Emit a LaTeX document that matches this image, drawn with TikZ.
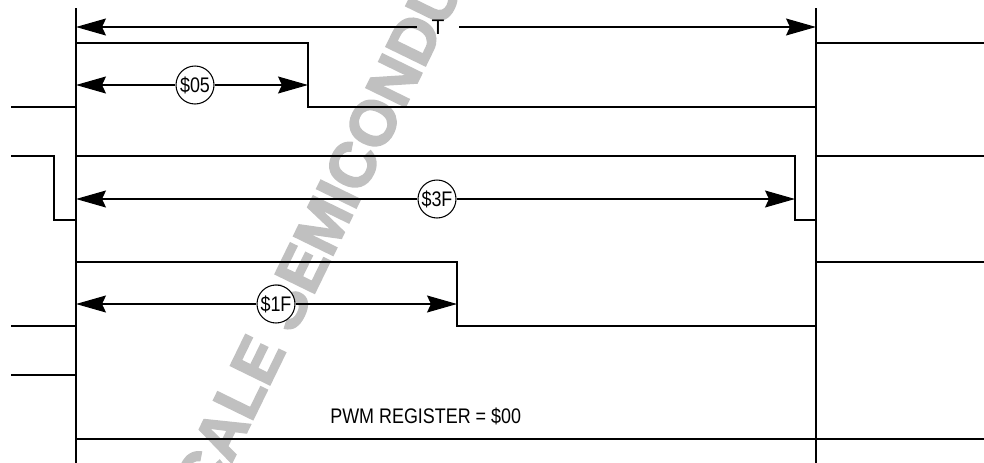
\documentclass[tikz,border=0pt]{standalone}
\usepackage{fontspec}
\setmainfont{Liberation Sans}
\newfontfamily\fuentemarca[FakeBold=3]{Liberation Sans Bold}
\usepackage{graphicx}
\usetikzlibrary{arrows.meta,positioning}
\definecolor{marcagua}{HTML}{C0C0C0}
\newcommand{\estrecho}[1]{\scalebox{0.85}[1]{#1}}

\begin{document}
\begin{tikzpicture}[x=0.02cm, y=-0.02cm,
  font=\fontsize{12}{14}\selectfont,
  senal/.style={line width=0.6pt, black},
  guia/.style={line width=0.75pt, black},
  valor/.style={circle, draw, line width=0.6pt, fill=white, minimum size=0.76cm, inner sep=0pt},
  etiq/.style={inner sep=0pt, minimum height=0.4cm},
  marca/.style={text=marcagua, font=\fontsize{36}{40}\fuentemarca, inner sep=0pt},
  flecha/.style={-{Stealth[length=0.6cm, width=0.34cm, inset=0.08cm]}, line width=0.6pt}]
\useasboundingbox (0,0) rectangle (984,463);
% marca de agua
\begin{scope}
\clip (0,0) rectangle (984,463);
\node[marca, rotate=64, anchor=base west] (agua) at (294,335) {\llap{FREESCALE }SEMICONDUCTOR, INC.};
\end{scope}
% etiquetas
\node[etiq, minimum width=0.84cm] (t) at (438,27) {T};
\node[valor] (v05) at (195,85) {\estrecho{\$05}};
\node[valor] (v3F) at (437,199) {\estrecho{\$3F}};
\node[valor] (v1F) at (276,304) {\estrecho{\$1F}};
\node[inner sep=0pt, anchor=base west] (reg) at (330,423) {\estrecho{PWM REGISTER = \$00}};
% extremos de las cotas
\coordinate (ti) at (76,27); \coordinate (td) at (816,27);
\coordinate (a05i) at (76,85); \coordinate (a05d) at (308,85);
\coordinate (a3Fi) at (76,199); \coordinate (a3Fd) at (795,199);
\coordinate (a1Fi) at (76,304); \coordinate (a1Fd) at (457,304);
% periodos
\draw[guia] (76,8) -- (76,463);
\draw[guia] (816,8) -- (816,463);
% senales
\draw[senal] (11,107) -| (76,43) -| (308,107) -| (816,43) -- (984,43);
\draw[senal] (11,156) -| (54,220) -| (76,156) -| (795,220) -| (816,156) -- (984,156);
\draw[senal] (11,326) -| (76,262) -| (457,326) -| (816,262) -- (984,262);
\draw[senal] (11,375) -| (76,439) -- (984,439);
% cotas
\draw[flecha] (t) -- (ti); \draw[flecha] (t) -- (td);
\draw[flecha] (v05) -- (a05i); \draw[flecha] (v05) -- (a05d);
\draw[flecha] (v3F) -- (a3Fi); \draw[flecha] (v3F) -- (a3Fd);
\draw[flecha] (v1F) -- (a1Fi); \draw[flecha] (v1F) -- (a1Fd);
\end{tikzpicture}
\end{document}
